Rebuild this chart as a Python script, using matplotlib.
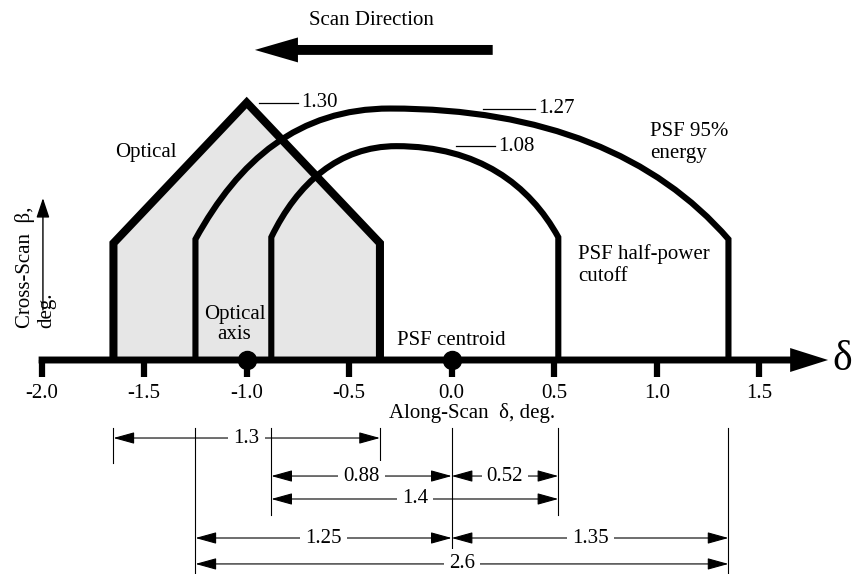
import numpy as np
import matplotlib.pyplot as plt
from matplotlib.path import Path
from matplotlib.patches import PathPatch, Polygon

plt.rcParams['font.family'] = ['Liberation Serif', 'DejaVu Serif']

# axis ticks
tick_values = [-2.0, -1.5, -1.0, -0.5, 0.0, 0.5, 1.0, 1.5]
tick_labels = ['-2.0', '-1.5', '-1.0', '-0.5', '0.0', '0.5', '1.0', '1.5']

# optical field (pentagon)
optical_center = -1.0
optical_width = 1.3
optical_peak = 1.30
optical_shoulder = 0.59

# PSF 95% energy contour
psf95_left, psf95_right = -1.25, 1.35
psf95_peak_x, psf95_peak = -0.30, 1.27
psf95_shoulder = 0.61

# PSF half-power contour
half_left, half_right = -0.88, 0.52
half_peak_x, half_peak = -0.27, 1.08
half_shoulder = 0.62

# marked points on the axis
optical_axis_x = -1.0
centroid_x = 0.0

# dimension rows: (start, end, label)
dims_row1 = [(-1.65, -0.35, '1.3')]
dims_row2 = [(-0.88, 0.0, '0.88'), (0.0, 0.52, '0.52')]
dims_row3 = [(-0.88, 0.52, '1.4')]
dims_row4 = [(-1.25, 0.0, '1.25'), (0.0, 1.35, '1.35')]
dims_row5 = [(-1.25, 1.35, '2.6')]

FS = 15

fig = plt.figure(figsize=(8.56, 5.74), dpi=100)
ax = fig.add_axes([0, 0, 1, 1])
ax.set_xlim(-451.7 / 205, (856 - 451.7) / 205)
ax.set_ylim(-214 / 198, 360 / 198)
ax.axis('off')

# optical pentagon
oL = optical_center - optical_width / 2
oR = optical_center + optical_width / 2
opt_pts = [(oL, 0), (oL, optical_shoulder), (optical_center, optical_peak),
           (oR, optical_shoulder), (oR, 0)]
ax.add_patch(Polygon(opt_pts, closed=True, facecolor='#e6e6e6', edgecolor='none', zorder=1))
ox, oy = zip(*opt_pts)
ax.plot(ox, oy, color='k', lw=5.8, solid_joinstyle='miter', solid_capstyle='butt', zorder=3)


def contour(left, right, shoulder, px, peak, a0, l0, c0, c1, a1, l1, lw=4.4):
    # verticals plus two cubic Bezier halves meeting flat at the peak
    t0, t1 = np.radians(a0), np.radians(a1)
    verts = [(left, 0), (left, shoulder),
             (left + l0 * np.cos(t0), shoulder + l0 * np.sin(t0)), (px - c0, peak), (px, peak),
             (px + c1, peak), (right - l1 * np.cos(t1), shoulder + l1 * np.sin(t1)), (right, shoulder),
             (right, 0)]
    codes = [Path.MOVETO, Path.LINETO,
             Path.CURVE4, Path.CURVE4, Path.CURVE4,
             Path.CURVE4, Path.CURVE4, Path.CURVE4,
             Path.LINETO]
    ax.add_patch(PathPatch(Path(verts, codes), fill=False, lw=lw, edgecolor='k',
                           joinstyle='miter', capstyle='butt', zorder=3))


contour(psf95_left, psf95_right, psf95_shoulder, psf95_peak_x, psf95_peak,
        62, 0.45, 0.45, 0.75, 50, 0.55)
contour(half_left, half_right, half_shoulder, half_peak_x, half_peak,
        65, 0.30, 0.28, 0.40, 62, 0.30)

# along-scan axis with arrow
ax.arrow(-2.0 - 0.015, 0, 1.836 + 2.015, 0, width=0.035, head_width=0.121, head_length=0.185,
         length_includes_head=True, fc='k', ec='none', zorder=4)
for t, lab in zip(tick_values, tick_labels):
    ax.plot([t, t], [0, -0.085], color='k', lw=4.5, solid_capstyle='butt', zorder=4)
    ax.text(t, -0.167, lab, ha='center', va='center', fontsize=FS)
ax.text(1.855, 0.0, 'δ', ha='left', va='center', fontsize=30)
ax.text(0.10, -0.268, 'Along-Scan  δ, deg.', ha='center', va='center', fontsize=FS)

ax.plot([optical_axis_x, centroid_x], [0, 0], 'o', color='k', ms=13, zorder=5)

# cross-scan label with arrow
ax.annotate('', xy=(-1.994, 0.818), xytext=(-1.994, 0.253),
            arrowprops=dict(arrowstyle='-|>,head_length=0.6,head_width=0.2',
                            mutation_scale=20, lw=1.0, color='k', shrinkA=0, shrinkB=0))
ax.text(-2.081, 0.16, 'Cross-Scan  β,', rotation=90, ha='center', va='bottom', fontsize=FS)
ax.text(-1.975, 0.16, 'deg.', rotation=90, ha='center', va='bottom', fontsize=FS)

# scan direction
ax.arrow(0.20, 1.566, -1.16, 0, width=0.05, head_width=0.126, head_length=0.21,
         length_includes_head=True, fc='k', ec='none')
ax.text(-0.39, 1.717, 'Scan Direction', ha='center', va='center', fontsize=FS)

# peak height callouts
callouts = [(optical_peak, -0.94, -0.75), (psf95_peak, 0.153, 0.406), (half_peak, 0.02, 0.21)]
for val, xa, xb in callouts:
    ax.plot([xa, xb], [val, val], color='k', lw=0.9)
    ax.text(xb + 0.015, val, f'{val:.2f}', ha='left', va='center', fontsize=FS)

# region labels
ax.text(-1.642, 1.05, 'Optical', ha='left', va='center', fontsize=FS, zorder=6)
ax.text(0.968, 1.10, 'PSF 95%\nenergy', ha='left', va='center', fontsize=FS, linespacing=1.2)
ax.text(0.617, 0.48, 'PSF half-power\ncutoff', ha='left', va='center', fontsize=FS, linespacing=1.2)
ax.text(-1.06, 0.18, 'Optical\naxis', ha='center', va='center', fontsize=FS, linespacing=1.1, zorder=6)
ax.text(0.0, 0.10, 'PSF centroid', ha='center', va='center', fontsize=FS)

# extension lines for the dimensions
ext_lines = [(oL, -0.52), (psf95_left, -1.081), (half_left, -0.783), (oR, -0.52),
             (centroid_x, -0.95), (half_right, -0.783), (psf95_right, -1.081)]
for x, yb in ext_lines:
    ax.plot([x, x], [-0.343, yb], color='k', lw=0.8)

rows = [(dims_row1, -0.394), (dims_row2, -0.586), (dims_row3, -0.702),
        (dims_row4, -0.899), (dims_row5, -1.030)]
for dims, y in rows:
    for x0, x1, lab in dims:
        ax.annotate('', xy=(x1, y), xytext=(x0, y),
                    arrowprops=dict(arrowstyle='<|-|>,head_length=0.65,head_width=0.18',
                                    mutation_scale=20, lw=0.8, color='k', shrinkA=0, shrinkB=0))
        ax.text((x0 + x1) / 2, y, lab, ha='center', va='center', fontsize=FS, zorder=6,
                bbox=dict(boxstyle='square,pad=0.25', fc='white', ec='none'))

fig.savefig('out.png', dpi=100)
